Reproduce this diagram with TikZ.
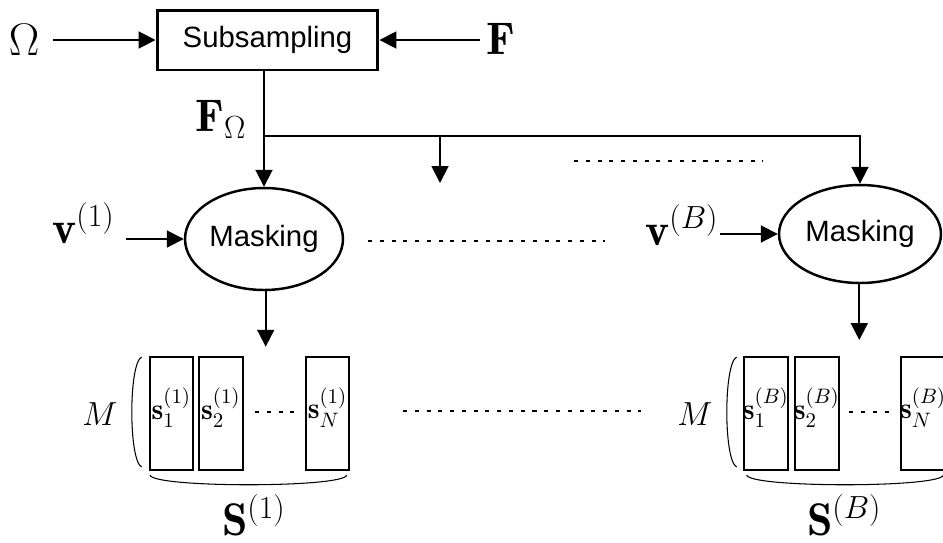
\RequirePackage{fix-cm}
\documentclass[tikz,border=0pt]{standalone}
\usepackage{amsmath}
\usepackage{fontspec}
\setsansfont{Liberation Sans}
\usetikzlibrary{arrows.meta,shapes.geometric,calc}
\tikzset{
  ln/.style={line width=1.1pt},
  arr/.style={line width=1.1pt,-{Triangle[length=9.6pt,width=9.6pt]}},
  dots/.style={line width=1.1pt,dash pattern=on 2.3pt off 4.4pt},
  brk/.style={line width=0.6pt},
  boxn/.style={draw,line width=1.7pt,inner sep=0pt,minimum width=4.42cm,minimum height=1.2cm,font=\sffamily\fontsize{16.7}{20}\selectfont},
  elln/.style={draw,ellipse,line width=1.4pt,inner sep=0pt,font=\sffamily\fontsize{16.7}{20}\selectfont},
  colr/.style={draw,line width=1.1pt,inner sep=0pt,minimum width=0.87cm,minimum height=2.26cm},
  big/.style={inner sep=0pt,font=\fontsize{26}{30}\selectfont},
  slab/.style={inner sep=0pt,font=\fontsize{17}{20}\selectfont},
  mlab/.style={inner sep=0pt,font=\fontsize{19}{22}\selectfont},
}
\begin{document}
\begin{tikzpicture}[x=0.02cm,y=-0.02cm]
\useasboundingbox (0,0) rectangle (943,542);
\clip (0,0) rectangle (943,542);
% top block
\node[boxn] (sub) at (267.5,40) {Subsampling};
\node[big] (om) at (24,40) {$\Omega$};
\node[big] (F) at (501,39) {$\mathbf{F}$};
\draw[arr,shorten <=7.7pt] (sub.west -| om.east) -- (sub.west);
\draw[arr,shorten <=3.8pt] (sub.east -| F.west) -- (sub.east);
\node[big,anchor=base west] (FO) at (195,131.7) {$\mathbf{F}_\Omega$};
% masking ellipses
\node[elln,minimum width=3.16cm,minimum height=2.04cm] (e1) at (264,239) {Masking};
\node[elln,minimum width=3.24cm,minimum height=1.96cm] (eB) at (860,234) {Masking};
\coordinate (hy) at (0,136);
\coordinate (mid) at (440,183);
\draw[arr] (sub.south -| e1.north) -- (e1.north);
\draw[ln] (e1.north |- hy) -- (mid |- hy);
\draw[arr] (mid |- hy) -| (eB.north);
\draw[arr] (mid |- hy) -- (mid);
\draw[dots] (574,161) -- (763,161);
% v inputs
\node[big,anchor=base west] (v1) at (52,243) {$\mathbf{v}^{(1)}$};
\node[big,anchor=base west] (vB) at (645,245) {$\mathbf{v}^{(B)}$};
\draw[arr,shorten <=6pt] (e1.west -| v1.east) -- (e1.west);
\draw[arr,shorten <=0.5pt] (eB.west -| vB.east) -- (eB.west);
\draw[dots] (368,240.7) -- (605,240.7);
% arrows down
\coordinate (t1) at (265.7,346.7);
\coordinate (tB) at (859.3,340);
\draw[arr] (e1.south -| t1) -- (t1);
\draw[arr] (eB.south -| tB) -- (tB);
% group 1
\node[colr] (r11) at (171.3,413.5) {};
\node[colr] (r12) at (220.8,413.5) {};
\node[colr] (r13) at (327.5,413.5) {};
\node[slab] (l11) at ($(r11.center)+(0,-6)$) {$\mathbf{s}_1^{(1)}$};
\node[slab] (l12) at ($(r12.center)+(0,-6)$) {$\mathbf{s}_2^{(1)}$};
\node[slab] (l13) at ($(r13.center)+(0,-6)$) {$\mathbf{s}_N^{(1)}$};
\draw[dots] (255,411.7) -- (299,411.7);
\node[mlab] (M1) at (100,414) {$M$};
\draw[brk] (141.7,357) .. controls (128.5,363) and (128.5,461) .. (141.7,467);
\draw[brk] (150,475) .. controls (152,488) and (345,488) .. (346.7,475);
\node[big,anchor=base west] (S1) at (221.7,535) {$\mathbf{S}^{(1)}$};
\draw[dots] (403,411) -- (641,411);
% group B
\node[colr] (rB1) at (765.8,413.5) {};
\node[colr] (rB2) at (816.8,413.5) {};
\node[colr] (rB3) at (923,413.5) {};
\node[slab] (lB1) at ($(rB1.center)+(0,-6)$) {$\mathbf{s}_1^{(B)}$};
\node[slab] (lB2) at ($(rB2.center)+(0,-6)$) {$\mathbf{s}_2^{(B)}$};
\node[slab] (lB3) at ($(rB3.center)+(0,-6)$) {$\mathbf{s}_N^{(B)}$};
\draw[dots] (849.3,411.7) -- (893,411.7);
\node[mlab] (MB) at (695,414) {$M$};
\draw[brk] (736.7,357) .. controls (723.5,363) and (723.5,461) .. (736.7,467);
\draw[brk] (746.7,475) .. controls (748.7,488) and (941.7,488) .. (943.4,475);
\node[big,anchor=base west] (SB) at (806.7,535) {$\mathbf{S}^{(B)}$};
\end{tikzpicture}
\end{document}
